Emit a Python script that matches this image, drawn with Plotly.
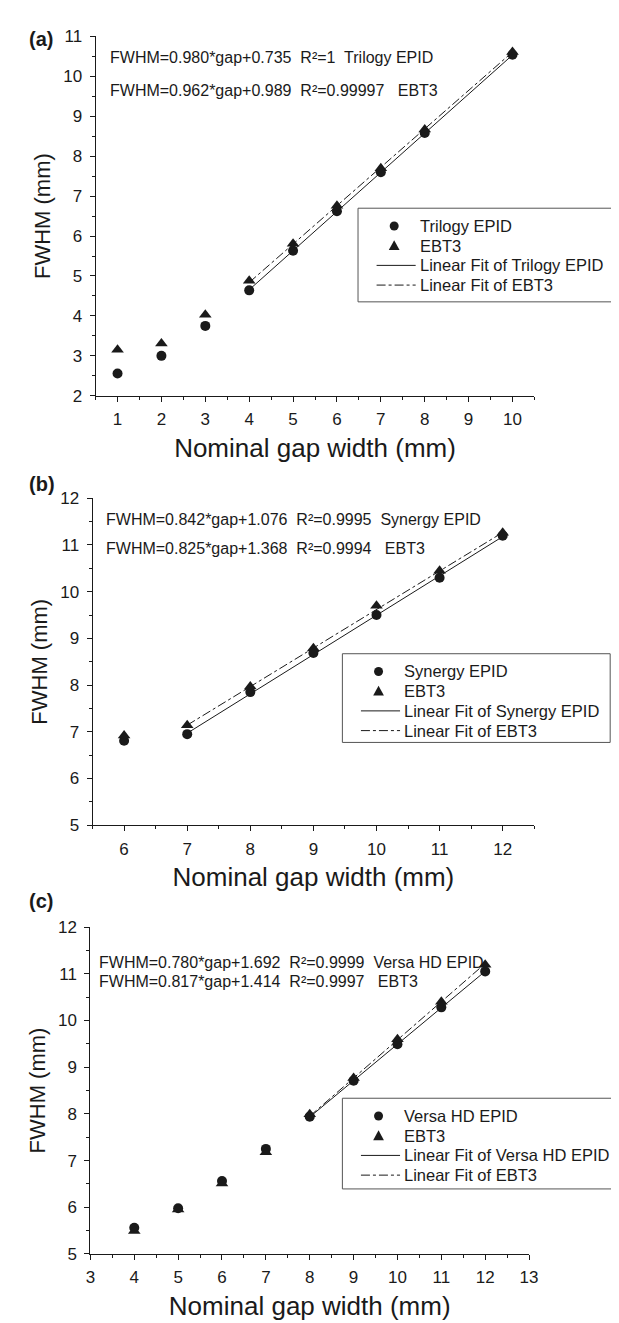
import plotly.graph_objects as go

W, H = 619, 1323

# ---------------- data ----------------
# Panel (a): Trilogy
a_gap = [1, 2, 3, 4, 5, 6, 7, 8, 10]
a_epid = [2.56, 3.00, 3.75, 4.64, 5.63, 6.62, 7.60, 8.58, 10.54]
a_ebt3 = [3.15, 3.31, 4.03, 4.88, 5.81, 6.76, 7.70, 8.67, 10.61]
a_fit_x = [4, 10]
a_fit_epid = [4.655, 10.535]
a_fit_ebt3 = [4.837, 10.609]

# Panel (b): Synergy
b_gap = [6, 7, 8, 9, 10, 11, 12]
b_epid = [6.81, 6.95, 7.85, 8.69, 9.50, 10.30, 11.20]
b_ebt3 = [6.92, 7.14, 7.97, 8.79, 9.70, 10.45, 11.26]
b_fit_x = [7, 12]
b_fit_epid = [6.970, 11.180]
b_fit_ebt3 = [7.143, 11.268]

# Panel (c): Versa HD
c_gap = [4, 5, 6, 7, 8, 9, 10, 11, 12]
c_epid = [5.56, 5.98, 6.56, 7.25, 7.94, 8.71, 9.49, 10.28, 11.05]
c_ebt3 = [5.49, 5.95, 6.51, 7.18, 7.99, 8.77, 9.60, 10.40, 11.19]
c_fit_x = [8, 12]
c_fit_epid = [7.932, 11.052]
c_fit_ebt3 = [7.950, 11.218]

panel_labels = ["(a)", "(b)", "(c)"]
device_names = ["Trilogy EPID", "Synergy EPID", "Versa HD EPID"]
eq_lines = [
    ["FWHM=0.980*gap+0.735  R\u00b2=1  Trilogy EPID",
     "FWHM=0.962*gap+0.989  R\u00b2=0.99997   EBT3"],
    ["FWHM=0.842*gap+1.076  R\u00b2=0.9995  Synergy EPID",
     "FWHM=0.825*gap+1.368  R\u00b2=0.9994   EBT3"],
    ["FWHM=0.780*gap+1.692  R\u00b2=0.9999  Versa HD EPID",
     "FWHM=0.817*gap+1.414  R\u00b2=0.9997   EBT3"],
]
x_ranges = [[0.5, 10.5], [5.5, 12.5], [3, 13]]
y_ranges = [[2, 11], [5, 12], [5, 12]]
x_title = "Nominal gap width (mm)"
y_title = "FWHM (mm)"

# ---------------- layout geometry (pixels) ----------------
plot_px = [  # left, right, top, bottom
    (84.5, 533.5, 19.7, 384.3),
    (81.4, 533.3, 488.3, 820.0),
    (79.2, 528.0, 923.3, 1255.0),
]
# legend box: left, top, right, bottom ; row pitch
legend_box = [(353, 194, 617, 289), (337, 646, 611, 736), (337, 1097, 614, 1189)]
row_first, row_pitch = 18, 20
eq_px = [(97, 41, 75), (93, 510, 539), (86, 959, 979)]
label_px = [(14, 22), (14, 474), (14, 897)]


def px(x):
    return x / W


def py(y):
    return 1 - y / H


FONT = "Liberation Sans, Arial, sans-serif"
INK = "#1a1a1a"

fig = go.Figure()

panels = [
    (a_gap, a_epid, a_ebt3, a_fit_x, a_fit_epid, a_fit_ebt3),
    (b_gap, b_epid, b_ebt3, b_fit_x, b_fit_epid, b_fit_ebt3),
    (c_gap, c_epid, c_ebt3, c_fit_x, c_fit_epid, c_fit_ebt3),
]

annotations = []
shapes = []
for i, (gx, ep, eb, fx, fe, fb) in enumerate(panels):
    n = "" if i == 0 else str(i + 1)
    xa, ya = "x" + n, "y" + n
    name = device_names[i]
    fig.add_trace(go.Scatter(x=gx, y=ep, mode="markers", name=name,
                             marker=dict(symbol="circle", size=10, color=INK),
                             xaxis=xa, yaxis=ya, showlegend=False))
    fig.add_trace(go.Scatter(x=gx, y=eb, mode="markers", name="EBT3",
                             marker=dict(symbol="triangle-up", size=11, color=INK),
                             xaxis=xa, yaxis=ya, showlegend=False))
    fig.add_trace(go.Scatter(x=fx, y=fe, mode="lines", name="Linear Fit of " + name,
                             line=dict(color=INK, width=1),
                             xaxis=xa, yaxis=ya, showlegend=False))
    fig.add_trace(go.Scatter(x=fx, y=fb, mode="lines", name="Linear Fit of EBT3",
                             line=dict(color=INK, width=1, dash="dashdot"),
                             xaxis=xa, yaxis=ya, showlegend=False))

    l, r, t, b = plot_px[i]
    common = dict(showline=True, linecolor=INK, linewidth=1, mirror=False,
                  showgrid=False, zeroline=False, ticks="outside", ticklen=5,
                  tickwidth=1, tickcolor=INK,
                  tickfont=dict(family=FONT, size=17, color=INK),
                  minor=dict(ticks="outside", ticklen=3, tickwidth=1,
                             tickcolor=INK, dtick=0.5, showgrid=False))
    fig.update_layout(**{
        "xaxis" + n: dict(domain=[px(l), px(r)], range=x_ranges[i], dtick=1,
                          anchor=ya, ticklabelstandoff=3,
                          title=dict(text=x_title, standoff=10,
                                     font=dict(family=FONT, size=26, color=INK)),
                          **common),
        "yaxis" + n: dict(domain=[py(b), py(t)], range=y_ranges[i], dtick=1,
                          anchor=xa, ticklabelstandoff=4,
                          title=dict(text=y_title, standoff=6,
                                     font=dict(family=FONT, size=22, color=INK)),
                          **common),
    })

    # ---- legend (box, samples, labels) ----
    bl, bt, br, bb = legend_box[i]
    shapes.append(dict(type="rect", xref="paper", yref="paper",
                       x0=px(bl), x1=px(br), y0=py(bb), y1=py(bt),
                       line=dict(color="#555", width=1)))
    labels = [name, "EBT3", "Linear Fit of " + name, "Linear Fit of EBT3"]
    sx = bl + 37  # symbol centre
    for k, lab in enumerate(labels):
        ry = bt + row_first + k * row_pitch
        annotations.append(dict(text=lab, x=px(bl + 61), y=py(ry),
                                xref="paper", yref="paper", xanchor="left",
                                yanchor="middle", showarrow=False,
                                font=dict(family=FONT, size=16.5, color=INK)))
        if k == 0:
            rr = 4.6
            shapes.append(dict(type="circle", xref="paper", yref="paper",
                               x0=px(sx - rr), x1=px(sx + rr),
                               y0=py(ry + rr), y1=py(ry - rr),
                               fillcolor=INK, line=dict(color=INK, width=0)))
        elif k == 1:
            path = "M {:.5f},{:.5f} L {:.5f},{:.5f} L {:.5f},{:.5f} Z".format(
                px(sx - 5.5), py(ry + 4.5), px(sx + 5.5), py(ry + 4.5),
                px(sx), py(ry - 5.5))
            shapes.append(dict(type="path", xref="paper", yref="paper", path=path,
                               fillcolor=INK, line=dict(color=INK, width=0)))
        else:
            shapes.append(dict(type="line", xref="paper", yref="paper",
                               x0=px(bl + 19), x1=px(bl + 59),
                               y0=py(ry), y1=py(ry),
                               line=dict(color=INK, width=1,
                                         dash="solid" if k == 2 else "dashdot")))

    # equations
    ex, ey1, ey2 = eq_px[i]
    for txt, yy in ((eq_lines[i][0], ey1), (eq_lines[i][1], ey2)):
        annotations.append(dict(text=txt, x=px(ex), y=py(yy), xref="paper",
                                yref="paper", xanchor="left", yanchor="middle",
                                showarrow=False,
                                font=dict(family=FONT, size=16, color=INK)))
    # panel label
    annotations.append(dict(text="<b>" + panel_labels[i] + "</b>",
                            x=px(label_px[i][0]), y=py(label_px[i][1]),
                            xref="paper", yref="paper", xanchor="left",
                            yanchor="middle", showarrow=False,
                            font=dict(family=FONT, size=20, color=INK)))

fig.update_layout(width=W, height=H, margin=dict(l=0, r=0, t=0, b=0),
                  paper_bgcolor="white", plot_bgcolor="white",
                  showlegend=False, annotations=annotations, shapes=shapes)

fig.write_html("out.html")
